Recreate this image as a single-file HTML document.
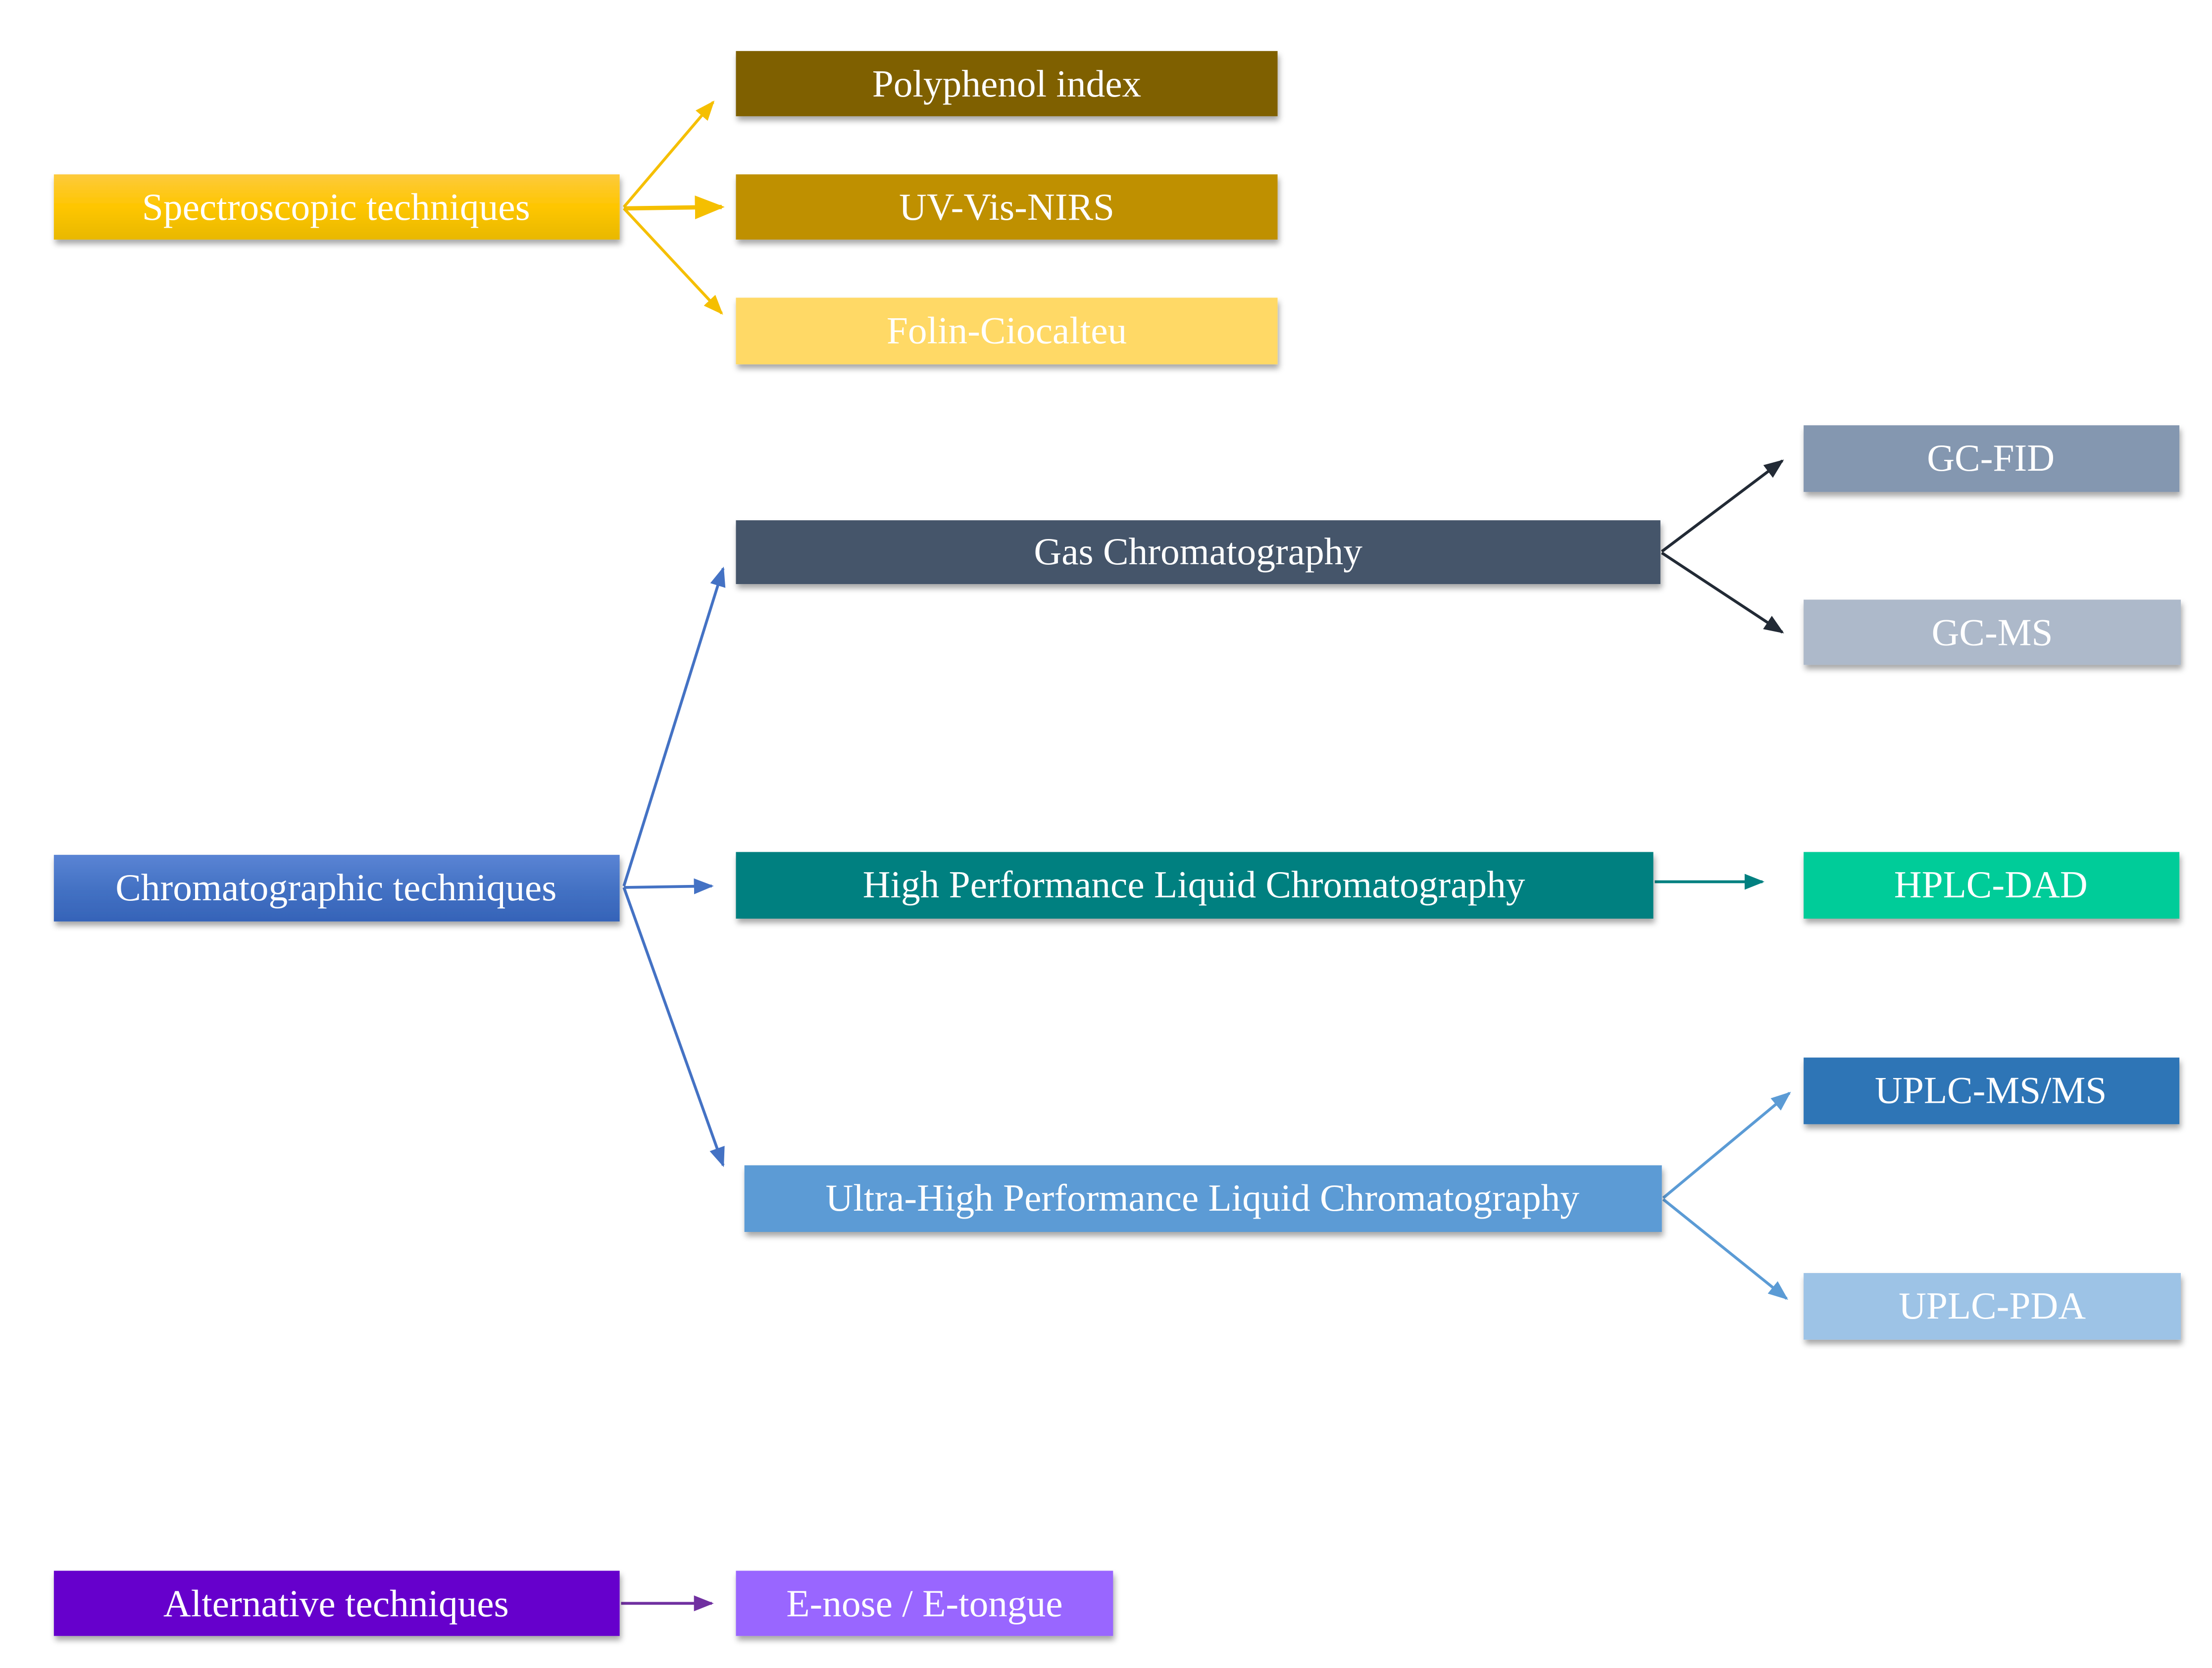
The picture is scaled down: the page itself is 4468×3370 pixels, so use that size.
<!DOCTYPE html>
<html><head><meta charset="utf-8"><style>
html,body{margin:0;padding:0;background:#fff;width:4468px;height:3370px;overflow:hidden}
svg{display:block}
text{font-family:"Liberation Serif",serif;fill:#fff;font-size:27px;text-anchor:middle;dominant-baseline:central}
</style></head><body>
<svg width="4468" height="3370" viewBox="0 0 1560 1176.6" preserveAspectRatio="none" xmlns="http://www.w3.org/2000/svg">
<defs>
<filter id="sh" x="-5%" y="-20%" width="110%" height="160%"><feDropShadow dx="1" dy="3" stdDeviation="2" flood-color="#000" flood-opacity="0.35"/></filter>
<linearGradient id="gy" x1="0" y1="0" x2="0" y2="1"><stop offset="0" stop-color="#fdca3c"/><stop offset="0.5" stop-color="#fec600"/><stop offset="1" stop-color="#e8b800"/></linearGradient>
<linearGradient id="gb" x1="0" y1="0" x2="0" y2="1"><stop offset="0" stop-color="#5a84d4"/><stop offset="0.5" stop-color="#4472c4"/><stop offset="1" stop-color="#3563b8"/></linearGradient>
<marker id="m1" viewBox="0 0 10 10" refX="9" refY="5" markerWidth="7" markerHeight="7" orient="auto"><path d="M0,1 L10,5 L0,9 z" fill="#f5bf00"/></marker>
<marker id="m2" viewBox="0 0 10 10" refX="9" refY="5" markerWidth="7" markerHeight="7" orient="auto"><path d="M0,1 L10,5 L0,9 z" fill="#4472c4"/></marker>
<marker id="m3" viewBox="0 0 10 10" refX="9" refY="5" markerWidth="7" markerHeight="7" orient="auto"><path d="M0,1 L10,5 L0,9 z" fill="#222a35"/></marker>
<marker id="m4" viewBox="0 0 10 10" refX="9" refY="5" markerWidth="7" markerHeight="7" orient="auto"><path d="M0,1 L10,5 L0,9 z" fill="#008080"/></marker>
<marker id="m5" viewBox="0 0 10 10" refX="9" refY="5" markerWidth="7" markerHeight="7" orient="auto"><path d="M0,1 L10,5 L0,9 z" fill="#5b9bd5"/></marker>
<marker id="m6" viewBox="0 0 10 10" refX="9" refY="5" markerWidth="7" markerHeight="7" orient="auto"><path d="M0,1 L10,5 L0,9 z" fill="#7030a0"/></marker>
</defs>
<g stroke-width="2" fill="none">
<line x1="440" y1="146" x2="503" y2="72" stroke="#f5bf00" marker-end="url(#m1)"/>
<line x1="440" y1="147" x2="509" y2="146" stroke="#f5bf00" stroke-width="3" marker-end="url(#m1)"/>
<line x1="440" y1="147" x2="509" y2="221" stroke="#f5bf00" marker-end="url(#m1)"/>
<line x1="440" y1="625" x2="510" y2="401" stroke="#4472c4" marker-end="url(#m2)"/>
<line x1="440" y1="626" x2="502" y2="625" stroke="#4472c4" marker-end="url(#m2)"/>
<line x1="440" y1="626" x2="510" y2="822" stroke="#4472c4" marker-end="url(#m2)"/>
<line x1="1172" y1="389" x2="1257" y2="325" stroke="#222a35" marker-end="url(#m3)"/>
<line x1="1172" y1="390" x2="1257" y2="446" stroke="#222a35" marker-end="url(#m3)"/>
<line x1="1167" y1="622" x2="1243" y2="622" stroke="#008080" marker-end="url(#m4)"/>
<line x1="1173" y1="845" x2="1262" y2="771" stroke="#5b9bd5" marker-end="url(#m5)"/>
<line x1="1173" y1="846" x2="1260" y2="916" stroke="#5b9bd5" marker-end="url(#m5)"/>
<line x1="438" y1="1131" x2="502" y2="1131" stroke="#7030a0" marker-end="url(#m6)"/>
</g>
<g filter="url(#sh)">
<rect x="38" y="123" width="399" height="46" fill="url(#gy)"/>
<rect x="519" y="36" width="382" height="46" fill="#7f6000"/>
<rect x="519" y="123" width="382" height="46" fill="#bf9000"/>
<rect x="519" y="210" width="382" height="47" fill="#ffd966"/>
<rect x="1272" y="300" width="265" height="47" fill="#8497b0"/>
<rect x="519" y="367" width="652" height="45" fill="#44546a"/>
<rect x="1272" y="423" width="266" height="46" fill="#adb9ca"/>
<rect x="38" y="603" width="399" height="47" fill="url(#gb)"/>
<rect x="519" y="601" width="647" height="47" fill="#008080"/>
<rect x="1272" y="601" width="265" height="47" fill="#00cc99"/>
<rect x="1272" y="746" width="265" height="47" fill="#2e75b6"/>
<rect x="525" y="822" width="647" height="47" fill="#5b9bd5"/>
<rect x="1272" y="898" width="266" height="47" fill="#9dc3e6"/>
<rect x="38" y="1108" width="399" height="46" fill="#6600cc"/>
<rect x="519" y="1108" width="266" height="46" fill="#9966ff"/>
</g>
<text x="237" y="146">Spectroscopic techniques</text>
<text x="710" y="59">Polyphenol index</text>
<text x="710" y="146">UV-Vis-NIRS</text>
<text x="710" y="233">Folin-Ciocalteu</text>
<text x="1404" y="323">GC-FID</text>
<text x="845" y="389">Gas Chromatography</text>
<text x="1405" y="446">GC-MS</text>
<text x="237" y="626">Chromatographic techniques</text>
<text x="842" y="624">High Performance Liquid Chromatography</text>
<text x="1404" y="624">HPLC-DAD</text>
<text x="1404" y="769">UPLC-MS/MS</text>
<text x="848" y="845">Ultra-High Performance Liquid Chromatography</text>
<text x="1405" y="921">UPLC-PDA</text>
<text x="237" y="1131">Alternative techniques</text>
<text x="652" y="1131">E-nose / E-tongue</text>
</svg>
</body></html>
